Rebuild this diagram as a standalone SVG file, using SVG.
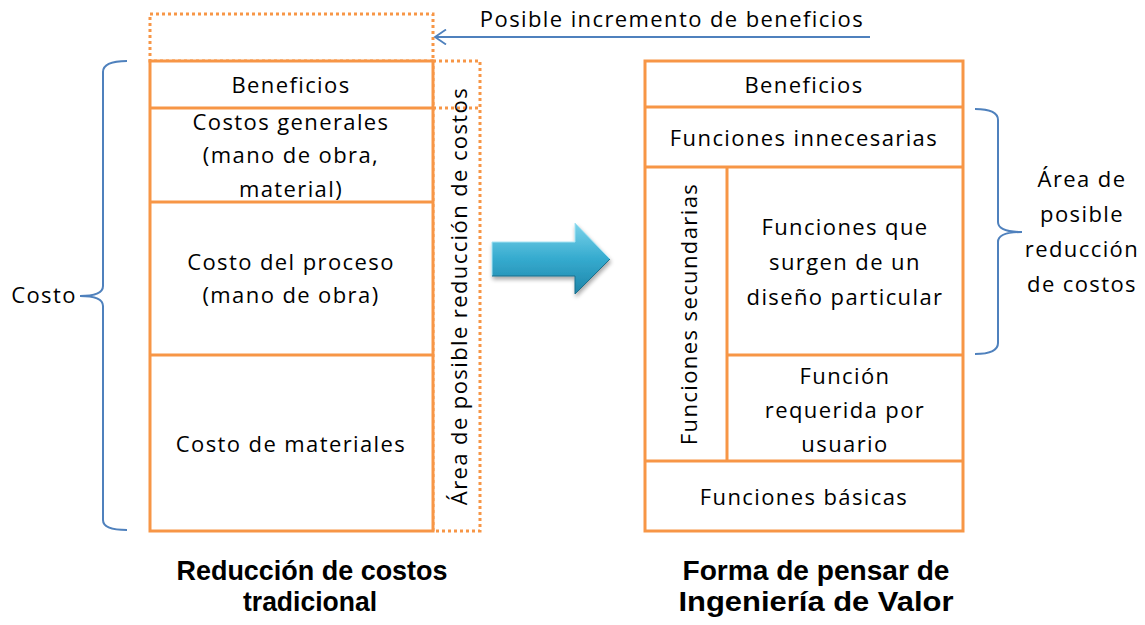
<svg xmlns="http://www.w3.org/2000/svg" width="1145" height="625" viewBox="0 0 1145 625">
<style>
.box{fill:#fff;stroke:#F79646;stroke-width:3}
.ln{stroke:#F79646;stroke-width:3;fill:none}
.dot{fill:none;stroke:#F79646;stroke-width:3;stroke-dasharray:3 3}
.brace{fill:none;stroke:#4F81BD;stroke-width:2}
.t{font-family:"Open Sans","Liberation Sans",sans-serif;font-size:22px;letter-spacing:1.4px;fill:#000;text-anchor:middle}
.h{font-family:"Liberation Sans","Open Sans",sans-serif;font-size:28px;font-weight:bold;fill:#000;text-anchor:middle}
</style>
<defs>
<marker id="open" viewBox="0 0 14 16" refX="12" refY="8" markerWidth="14" markerHeight="16" markerUnits="userSpaceOnUse" orient="auto">
<path d="M1,0.5 L12,8 L1,15.5" fill="none" stroke="#4F81BD" stroke-width="1.8"/>
</marker>
<linearGradient id="ag" x1="0" y1="0" x2="0" y2="1">
<stop offset="0" stop-color="#7DD3EA"/>
<stop offset="0.5" stop-color="#35ABCF"/>
<stop offset="1" stop-color="#1F84A8"/>
</linearGradient>
<filter id="sh" x="-20%" y="-20%" width="140%" height="150%">
<feGaussianBlur in="SourceAlpha" stdDeviation="2"/>
<feOffset dx="1" dy="3" result="b"/>
<feComponentTransfer><feFuncA type="linear" slope="0.35"/></feComponentTransfer>
<feMerge><feMergeNode/><feMergeNode in="SourceGraphic"/></feMerge>
</filter>
</defs>
<rect width="1145" height="625" fill="#fff"/>

<!-- Left diagram -->
<g id="left-increment">
<rect class="dot" x="150" y="14" width="283" height="47"/>
</g>
<g id="left-reduction-area">
<rect class="dot" x="433" y="61" width="47" height="470"/>
<line class="dot" x1="433" y1="108" x2="480" y2="108"/>
<text class="t" transform="translate(467,296) rotate(-90)">Área de posible reducción de costos</text>
</g>
<g id="left-box">
<rect class="box" x="150" y="61" width="283" height="470"/>
</g>
<g id="left-beneficios">
<text class="t" x="291" y="93">Beneficios</text>
</g>
<g id="left-costos-generales">
<line class="ln" x1="150" y1="108" x2="433" y2="108"/>
<text class="t" x="291" y="130">Costos generales</text>
<text class="t" x="291" y="163">(mano de obra,</text>
<text class="t" x="291" y="197">material)</text>
</g>
<g id="left-costo-proceso">
<line class="ln" x1="150" y1="202" x2="433" y2="202"/>
<text class="t" x="291" y="270">Costo del proceso</text>
<text class="t" x="291" y="303">(mano de obra)</text>
</g>
<g id="left-costo-materiales">
<line class="ln" x1="150" y1="355" x2="433" y2="355"/>
<text class="t" x="291" y="452">Costo de materiales</text>
</g>
<g id="costo-brace">
<path class="brace" d="M127,61 Q103,61 103,72 L103,286 Q103,296 80,296 Q103,296 103,306 L103,520 Q103,530 127,530"/>
<text class="t" x="44" y="303">Costo</text>
</g>
<g id="title-left">
<text class="h" x="312" y="580" textLength="271" lengthAdjust="spacingAndGlyphs">Reducción de costos</text>
<text class="h" x="310" y="611" textLength="134" lengthAdjust="spacingAndGlyphs">tradicional</text>
</g>

<!-- Right diagram -->
<g id="right-box">
<rect class="box" x="645" y="61" width="318" height="470"/>
</g>
<g id="right-beneficios">
<text class="t" x="804" y="93">Beneficios</text>
</g>
<g id="right-innecesarias">
<line class="ln" x1="645" y1="107" x2="963" y2="107"/>
<text class="t" x="804" y="146">Funciones innecesarias</text>
</g>
<g id="right-secundarias">
<line class="ln" x1="645" y1="167" x2="963" y2="167"/>
<line class="ln" x1="727" y1="167" x2="727" y2="461"/>
<text class="t" transform="translate(697,314) rotate(-90)">Funciones secundarias</text>
</g>
<g id="right-diseno">
<text class="t" x="845" y="235">Funciones que</text>
<text class="t" x="845" y="270">surgen de un</text>
<text class="t" x="845" y="305">diseño particular</text>
</g>
<g id="right-requerida">
<line class="ln" x1="727" y1="355" x2="963" y2="355"/>
<text class="t" x="845" y="384">Función</text>
<text class="t" x="845" y="418">requerida por</text>
<text class="t" x="845" y="452">usuario</text>
</g>
<g id="right-basicas">
<line class="ln" x1="645" y1="461" x2="963" y2="461"/>
<text class="t" x="804" y="505">Funciones básicas</text>
</g>
<g id="right-brace">
<path class="brace" d="M975,109 Q998,109 998,120 L998,222 Q998,232 1022,232 Q998,232 998,242 L998,343 Q998,354 975,354"/>
<text class="t" x="1082" y="187">Área de</text>
<text class="t" x="1082" y="222">posible</text>
<text class="t" x="1082" y="257">reducción</text>
<text class="t" x="1082" y="292">de costos</text>
</g>
<g id="title-right">
<text class="h" x="816" y="580" textLength="267" lengthAdjust="spacingAndGlyphs">Forma de pensar de</text>
<text class="h" x="816" y="611" textLength="275" lengthAdjust="spacingAndGlyphs">Ingeniería de Valor</text>
</g>

<!-- Connectors -->
<g id="connectors">
<g id="big-arrow" filter="url(#sh)">
<polygon points="492,242 575,242 575,223 610,259 575,294 575,276 492,276" fill="url(#ag)"/>
<polyline points="492,276 492,242 575,242 575,223 610,259" fill="none" stroke="#A6E4F4" stroke-width="1"/>
<polyline points="610,259 575,294 575,276 492,276" fill="none" stroke="#1A6F8C" stroke-width="1"/>
</g>
<g id="increment-arrow">
<line x1="870" y1="37" x2="435" y2="37" stroke="#4F81BD" stroke-width="2" marker-end="url(#open)"/>
<text class="t" x="672" y="27">Posible incremento de beneficios</text>
</g>
</g>
</svg>
